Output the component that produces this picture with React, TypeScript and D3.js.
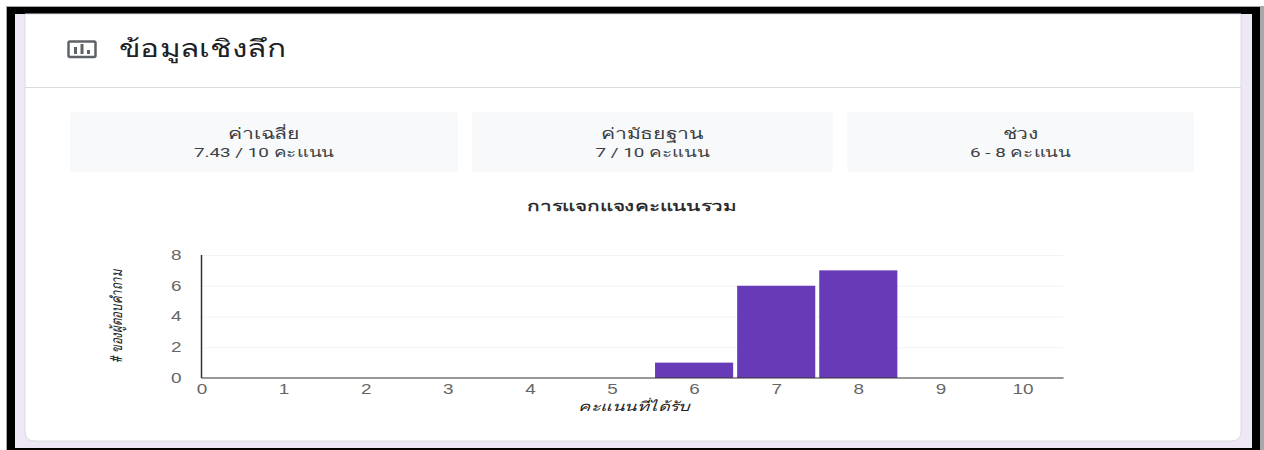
import * as d3 from 'd3';
import { useEffect, useRef } from 'react';

const scoreLabels = [0, 1, 2, 3, 4, 5, 6, 7, 8, 9, 10];
const respondentCounts = [0, 0, 0, 0, 0, 0, 1, 6, 7, 0, 0];
const yTicks = [0, 2, 4, 6, 8];
const statTitles = ['ค่าเฉลี่ย', 'ค่ามัธยฐาน', 'ช่วง'];
const statValues = ['7.43 / 10 คะแนน', '7 / 10 คะแนน', '6 - 8 คะแนน'];
const statBoxes = [
  [70, 458],
  [472, 833],
  [847, 1194],
];

const FONT = 'Roboto, "Noto Sans", "DejaVu Sans", sans-serif';
const TICK_FONT = '"Liberation Sans", sans-serif';

const App = () => {
  const svgRef = useRef<SVGSVGElement>(null);

  useEffect(() => {
    const svg = d3.select(svgRef.current);
    svg.selectAll('*').remove();

    // page background and black screenshot frame
    svg.append('rect').attr('width', 1264).attr('height', 450).attr('fill', '#ffffff');
    svg.append('rect').attr('x', 6).attr('y', 6).attr('width', 1258).attr('height', 444).attr('fill', '#a8a8a8');
    svg.append('rect').attr('x', 7).attr('y', 7).attr('width', 1253).attr('height', 443).attr('fill', '#000000');
    svg.append('rect').attr('x', 15).attr('y', 14).attr('width', 1237).attr('height', 434).attr('fill', '#ede7f6');

    // card
    svg.append('path')
      .attr('d', 'M25,14 H1241 V431 Q1241,441 1231,441 H35 Q25,441 25,431 Z')
      .attr('fill', '#ffffff')
      .attr('stroke', '#dadce0')
      .attr('stroke-width', 1);
    svg.append('line')
      .attr('x1', 25).attr('x2', 1241).attr('y1', 87.5).attr('y2', 87.5)
      .attr('stroke', '#dadce0');

    // header icon
    const icon = svg.append('g').attr('fill', '#5f6368');
    icon.append('rect').attr('x', 68.5).attr('y', 41.5).attr('width', 27).attr('height', 15.5)
      .attr('rx', 1.5).attr('fill', 'none').attr('stroke', '#5f6368').attr('stroke-width', 2.5);
    icon.append('rect').attr('x', 74).attr('y', 47).attr('width', 3).attr('height', 7);
    icon.append('rect').attr('x', 80.5).attr('y', 44).attr('width', 3).attr('height', 10);
    icon.append('rect').attr('x', 87).attr('y', 50).attr('width', 3).attr('height', 4);

    const stretched = (x: number, y: number, sx: number, sy = 1) =>
      `translate(${x},${y}) scale(${sx},${sy})`;

    svg.append('text')
      .attr('transform', stretched(119, 57, 1.316))
      .attr('font-size', 24)
      .attr('font-family', FONT)
      .attr('fill', '#202124')
      .text('ข้อมูลเชิงลึก');

    // stat boxes
    statBoxes.forEach(([x0, x1], i) => {
      const cx = (x0 + x1) / 2;
      svg.append('rect')
        .attr('x', x0).attr('y', 112).attr('width', x1 - x0).attr('height', 60)
        .attr('rx', 4).attr('fill', '#f8f9fa');
      svg.append('text')
        .attr('transform', stretched(cx, 139, 1.41))
        .attr('text-anchor', 'middle')
        .attr('font-size', 15)
        .attr('font-family', FONT)
        .attr('fill', '#3c4043')
        .text(statTitles[i]);
      svg.append('text')
        .attr('transform', stretched(cx, 157, 1.45))
        .attr('text-anchor', 'middle')
        .attr('font-size', 13)
        .attr('font-family', FONT)
        .attr('fill', '#3c4043')
        .text(statValues[i]);
    });

    svg.append('text')
      .attr('transform', stretched(632, 211, 1.48))
      .attr('text-anchor', 'middle')
      .attr('font-size', 14)
      .attr('font-family', FONT)
      .attr('fill', '#202124')
      .attr('stroke', '#202124')
      .attr('stroke-width', 0.3)
      .text('การแจกแจงคะแนนรวม');

    // chart
    const x = d3.scaleLinear().domain([0, 10]).range([201.5, 1022.5]);
    const y = d3.scaleLinear().domain([0, 8]).range([378, 255]);
    const barWidth = x(1) - x(0) - 4;

    const grid = svg.append('g')
      .attr('transform', `translate(${x(0)},0)`)
      .call(d3.axisLeft(y).tickValues(yTicks.slice(1)).tickSize(-(x(10.5) - x(0))).tickFormat(() => ''));
    grid.select('.domain').remove();
    grid.selectAll('.tick line').attr('stroke', '#f3f3f3');

    svg.append('g')
      .selectAll('rect')
      .data(respondentCounts)
      .join('rect')
      .attr('x', (_, i) => x(scoreLabels[i]) - barWidth / 2)
      .attr('y', (d) => y(d))
      .attr('width', barWidth)
      .attr('height', (d) => y(0) - y(d))
      .attr('fill', '#673ab7');

    const xAxis = svg.append('g')
      .attr('transform', `translate(0,${y(0)})`)
      .call(d3.axisBottom(x).tickValues(scoreLabels).tickSize(0).tickPadding(6));
    xAxis.select('.domain').remove();
    xAxis.selectAll('text')
      .attr('font-size', 14)
      .attr('transform', 'scale(1.35,1)')
      .attr('font-family', TICK_FONT)
      .attr('fill', '#666666');

    const yAxis = svg.append('g')
      .attr('transform', `translate(${x(0)},0)`)
      .call(d3.axisLeft(y).tickValues(yTicks).tickSize(0).tickPadding(0));
    yAxis.select('.domain').remove();
    yAxis.selectAll('text')
      .attr('font-size', 14)
      .attr('x', 0)
      .attr('transform', 'translate(-20,0) scale(1.35,1)')
      .attr('font-family', TICK_FONT)
      .attr('fill', '#666666');

    // axis lines
    svg.append('line')
      .attr('x1', x(0)).attr('x2', x(0)).attr('y1', y(8)).attr('y2', y(0))
      .attr('stroke', '#333333').attr('stroke-width', 1.5);
    svg.append('line')
      .attr('x1', x(0)).attr('x2', x(10.5)).attr('y1', y(0)).attr('y2', y(0))
      .attr('stroke', '#333333').attr('stroke-width', 1);

    svg.append('text')
      .attr('transform', stretched(634, 411, 1.4))
      .attr('text-anchor', 'middle')
      .attr('font-size', 13)
      .attr('font-style', 'italic')
      .attr('font-family', FONT)
      .attr('fill', '#222222')
      .text('คะแนนที่ได้รับ');

    svg.append('text')
      .attr('transform', 'translate(122,316) rotate(-90) scale(0.88,1.2)')
      .attr('text-anchor', 'middle')
      .attr('font-size', 13)
      .attr('font-style', 'italic')
      .attr('font-family', FONT)
      .attr('fill', '#222222')
      .text('# ของผู้ตอบคำถาม');
  }, []);

  return (
    <svg
      ref={svgRef}
      width={1264}
      height={450}
      style={{ position: 'absolute', left: 0, top: 0 }}
    />
  );
};

export default App;
